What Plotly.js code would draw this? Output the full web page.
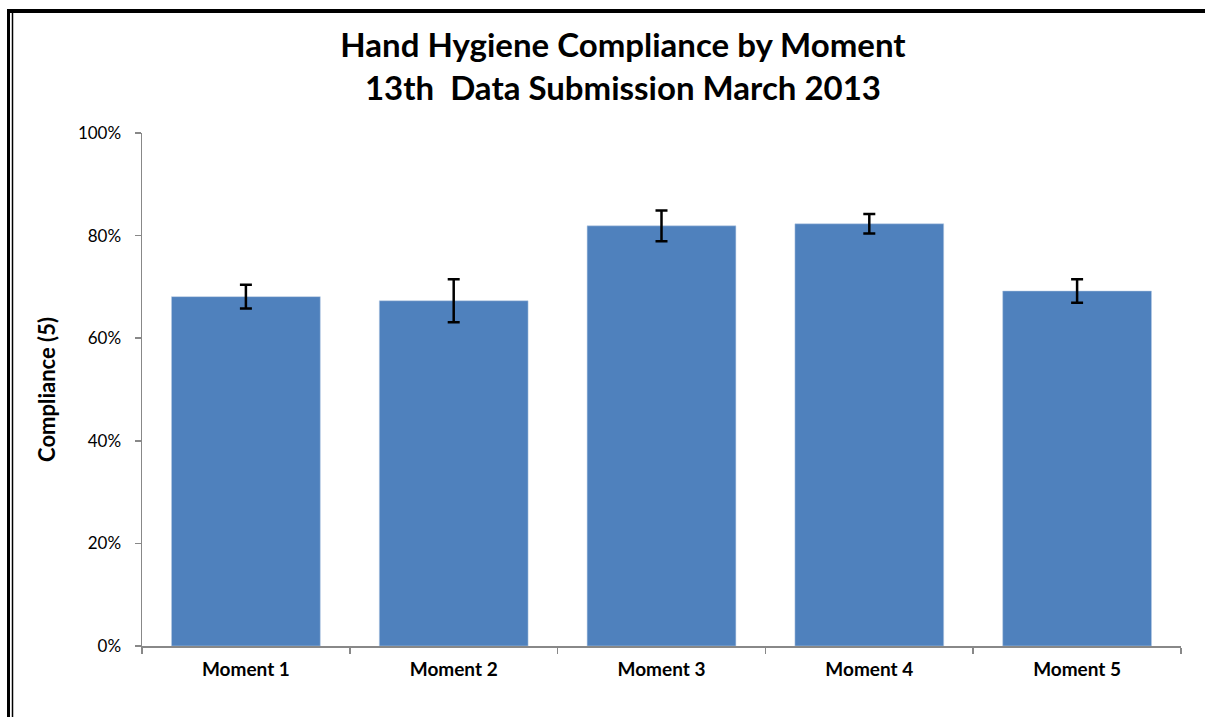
<!DOCTYPE html>
<html>
<head>
<meta charset="utf-8">
<script src="https://cdn.plot.ly/plotly-3.0.1.min.js"></script>
<style>html,body{margin:0;padding:0;background:#fff;}#chart{width:1205px;height:717px;}</style>
</head>
<body>
<div id="chart"></div>
<script>
const categories = ["Moment 1", "Moment 2", "Moment 3", "Moment 4", "Moment 5"];
const compliance = [68.1, 67.3, 81.9, 82.3, 69.2];
const errorPlusMinus = [2.3, 4.2, 3.0, 1.9, 2.3];
const yTickValues = [0, 20, 40, 60, 80, 100];
const yTickLabels = ["0%", "20%", "40%", "60%", "80%", "100%"];

const W = 1205, H = 717;
const mL = 142, mR = 24, mT = 133, mB = 70.5;
const pw = W - mL - mR, ph = H - mT - mB;
const px = x => (x - mL) / pw;
const py = y => (H - mB - y) / ph;

const font = "Lato, 'Open Sans', sans-serif";

Plotly.newPlot('chart', [{
  type: 'bar',
  x: categories,
  y: compliance,
  marker: {color: '#4F81BD', line: {color: '#B9CDE5', width: 0.5}},
  error_y: {type: 'data', array: errorPlusMinus, visible: true, color: '#000', thickness: 2.5, width: 6}
}], {
  width: W, height: H,
  margin: {l: mL, r: mR, t: mT, b: mB, pad: 0},
  paper_bgcolor: '#fff', plot_bgcolor: '#fff',
  showlegend: false,
  bargap: 0.284,
  title: {
    text: '<b>Hand Hygiene Compliance by Moment<br>13th  Data Submission March 2013</b>',
    font: {family: font, size: 33, color: '#000'},
    x: 0.517, xanchor: 'center', y: 0.92, yanchor: 'top', yref: 'container'
  },
  xaxis: {
    type: 'category',
    tickson: 'boundaries',
    ticks: 'outside', ticklen: 6, tickcolor: '#888', tickwidth: 1.5,
    showline: true, linecolor: '#888', linewidth: 1.5,
    showgrid: false, zeroline: false,
    tickfont: {family: font, size: 19, color: '#000', weight: 'bold'},
    ticklabelstandoff: 6,
    fixedrange: true
  },
  yaxis: {
    range: [0, 100],
    tickvals: yTickValues, ticktext: yTickLabels,
    ticks: 'outside', ticklen: 6, tickcolor: '#888', tickwidth: 1.5,
    showline: true, linecolor: '#888', linewidth: 1.5,
    showgrid: false, zeroline: false,
    tickfont: {family: font, size: 17, color: '#000'},
    ticklabelstandoff: 10,
    title: {text: 'Compliance (5)', font: {family: font, size: 22, color: '#000', weight: 'bold'}, standoff: 16},
    fixedrange: true
  },
  shapes: [
    {type: 'line', xref: 'paper', yref: 'paper', x0: px(7), x1: px(1206), y0: py(11), y1: py(11), line: {color: '#000', width: 4}},
    {type: 'line', xref: 'paper', yref: 'paper', x0: px(8.5), x1: px(8.5), y0: py(9), y1: py(718), line: {color: '#000', width: 3}},
    {type: 'line', xref: 'paper', yref: 'paper', x0: px(12.5), x1: px(12.5), y0: py(12), y1: py(718), line: {color: '#000', width: 1.5}}
  ]
}, {displayModeBar: false, staticPlot: true});
</script>
</body>
</html>
